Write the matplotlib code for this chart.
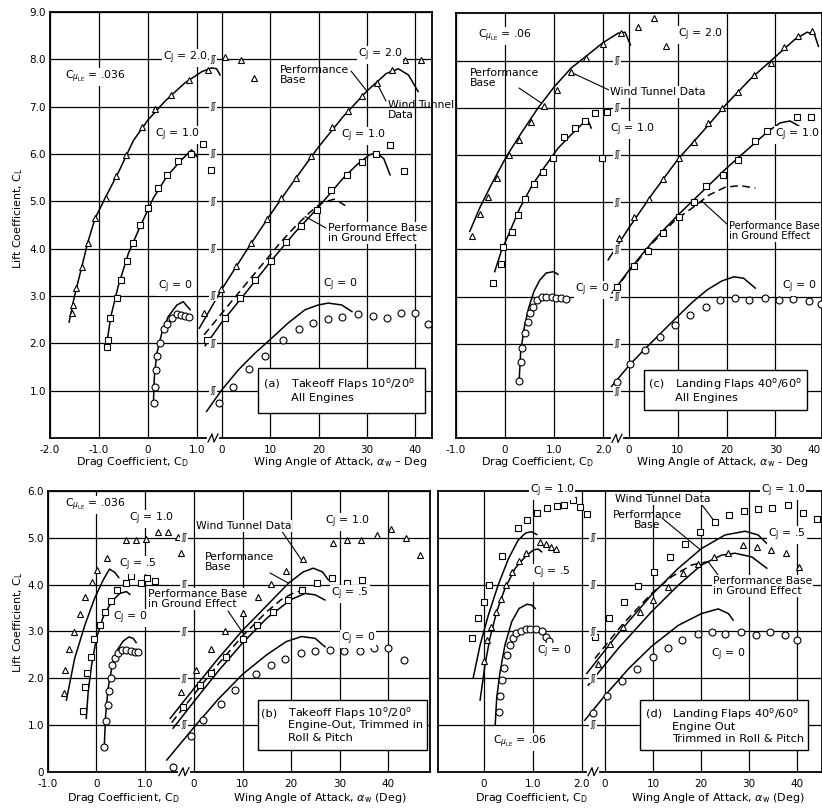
import matplotlib
matplotlib.use("Agg")
import matplotlib.pyplot as plt
from matplotlib.lines import Line2D
from matplotlib.patches import Rectangle

# ---------------------------------------------------------------------------
# values
# ---------------------------------------------------------------------------

# (a) takeoff flaps 10/20, all engines -- drag side (C_D, C_L)
a_cd_cj2_cd = [-1.56, -1.54, -1.47, -1.35, -1.23, -1.08, -0.86, -0.65, -0.45, -0.13, 0.14, 0.46, 0.84, 1.23]
a_cd_cj2_cl = [2.64, 2.81, 3.16, 3.62, 4.13, 4.64, 5.07, 5.54, 5.98, 6.58, 6.95, 7.25, 7.57, 7.78]
a_cd_cj2_base_cd = [-1.61, -1.50, -1.35, -1.23, -1.08, -0.86, -0.60, -0.30, 0.0, 0.35, 0.75, 1.10, 1.30, 1.40, 1.47]
a_cd_cj2_base_cl = [2.45, 3.00, 3.62, 4.13, 4.64, 5.10, 5.62, 6.28, 6.72, 7.12, 7.50, 7.74, 7.82, 7.80, 7.67]
a_cd_cj1_cd = [-0.84, -0.81, -0.78, -0.64, -0.55, -0.42, -0.30, -0.16, -0.01, 0.21, 0.39, 0.62, 0.87, 1.13, 1.28]
a_cd_cj1_cl = [1.92, 2.07, 2.53, 2.95, 3.34, 3.73, 4.12, 4.50, 4.86, 5.28, 5.56, 5.86, 6.00, 6.22, 5.67]
a_cd_cj1_base_cd = [-0.84, -0.76, -0.61, -0.40, -0.16, 0.11, 0.38, 0.65, 0.89, 0.99]
a_cd_cj1_base_cl = [2.00, 2.56, 3.20, 3.90, 4.47, 5.07, 5.52, 5.84, 6.09, 5.95]
a_cd_cj0_cd = [0.13, 0.14, 0.16, 0.19, 0.24, 0.33, 0.39, 0.48, 0.59, 0.67, 0.76, 0.84]
a_cd_cj0_cl = [0.75, 1.08, 1.44, 1.73, 2.01, 2.30, 2.41, 2.53, 2.62, 2.60, 2.58, 2.55]
a_cd_cj0_base_cd = [0.11, 0.13, 0.18, 0.28, 0.41, 0.59, 0.72, 0.86]
a_cd_cj0_base_cl = [0.73, 1.30, 1.79, 2.21, 2.56, 2.81, 2.88, 2.71]

# (a) -- angle of attack side (alpha_w, C_L)
a_al_cj2_al = [-3.7, -0.2, 3.0, 6.0, 9.25, 12.2, 15.3, 18.4, 22.8, 26.1, 28.9, 32.0, 35.1, 0.6, 3.9, 6.7, 37.9, 41.2]
a_al_cj2_cl = [2.64, 3.14, 3.64, 4.12, 4.62, 5.07, 5.49, 5.95, 6.56, 6.90, 7.23, 7.51, 7.78, 8.04, 7.98, 7.60, 7.98, 7.99]
a_al_cj2_base_al = [-4.7, 0, 5, 10, 15, 20, 25, 30, 34, 36.5, 38.6, 40.6]
a_al_cj2_base_cl = [2.32, 3.15, 3.95, 4.72, 5.45, 6.15, 6.78, 7.33, 7.70, 7.80, 7.67, 7.32]
a_al_cj1_al = [-3.2, 0.6, 3.7, 6.8, 10.1, 13.2, 16.4, 19.6, 22.6, 25.8, 29.0, 31.8, 34.8, 37.7]
a_al_cj1_cl = [2.07, 2.53, 2.95, 3.33, 3.73, 4.15, 4.48, 4.82, 5.24, 5.56, 5.84, 6.00, 6.19, 5.65]
a_al_cj1_base_al = [-3.5, 0, 5, 10, 15, 20, 25, 28, 30.5, 32, 33.5, 34.8]
a_al_cj1_base_cl = [1.95, 2.45, 3.08, 3.72, 4.33, 4.88, 5.48, 5.78, 5.98, 6.03, 5.90, 5.56]
a_al_ground_al = [-3.7, 0, 5, 10, 12, 15, 18, 20.6, 23.4, 25.8]
a_al_ground_cl = [2.18, 2.64, 3.26, 3.87, 4.12, 4.45, 4.75, 4.97, 5.05, 4.89]
a_al_cj0_al = [-0.6, 2.3, 5.6, 8.9, 12.7, 15.9, 18.8, 21.9, 24.8, 28.1, 31.3, 34.1, 37.1, 40.0, 42.7]
a_al_cj0_cl = [0.75, 1.08, 1.45, 1.73, 2.07, 2.30, 2.42, 2.51, 2.56, 2.62, 2.58, 2.53, 2.65, 2.65, 2.41]
a_al_cj0_base_al = [-3.2, -0.1, 3.4, 6.8, 10.3, 13.7, 17.2, 19.9, 22.0, 24.8, 26.9]
a_al_cj0_base_cl = [0.56, 1.01, 1.44, 1.79, 2.11, 2.43, 2.71, 2.81, 2.85, 2.81, 2.67]

# (c) landing flaps 40/60, all engines -- drag side
c_cd_cj2_cd = [-0.67, -0.52, -0.35, -0.16, 0.08, 0.29, 0.54, 0.79, 1.07, 1.35, 1.65, 2.00, 2.37]
c_cd_cj2_cl = [4.29, 4.75, 5.12, 5.52, 5.99, 6.32, 6.69, 7.03, 7.38, 7.75, 8.05, 8.35, 8.58]
c_cd_cj2_base_cd = [-0.72, -0.52, -0.28, 0.03, 0.33, 0.67, 1.01, 1.35, 1.69, 1.99, 2.31, 2.45, 2.56]
c_cd_cj2_base_cl = [4.38, 4.87, 5.37, 5.97, 6.46, 6.99, 7.45, 7.84, 8.12, 8.37, 8.58, 8.60, 8.33]
c_cd_cj1_cd = [-0.25, -0.08, -0.04, 0.14, 0.27, 0.41, 0.59, 0.78, 0.97, 1.20, 1.42, 1.63, 1.84, 2.09, 1.97]
c_cd_cj1_cl = [3.28, 3.69, 4.05, 4.36, 4.73, 5.06, 5.39, 5.64, 5.93, 6.38, 6.57, 6.71, 6.89, 6.91, 5.93]
c_cd_cj1_base_cd = [-0.21, -0.08, 0.10, 0.30, 0.54, 0.81, 1.08, 1.35, 1.59, 1.69, 1.76]
c_cd_cj1_base_cl = [3.53, 3.95, 4.38, 4.87, 5.33, 5.75, 6.14, 6.43, 6.67, 6.74, 6.57]
c_cd_cj0_cd = [0.29, 0.32, 0.35, 0.40, 0.47, 0.52, 0.57, 0.66, 0.76, 0.84, 0.95, 1.05, 1.15, 1.25]
c_cd_cj0_cl = [1.21, 1.62, 1.91, 2.22, 2.47, 2.65, 2.79, 2.93, 2.99, 2.99, 3.00, 2.97, 2.98, 2.95]
c_cd_cj0_base_cd = [0.29, 0.32, 0.39, 0.48, 0.59, 0.71, 0.84, 1.00, 1.08]
c_cd_cj0_base_cl = [1.24, 1.83, 2.33, 2.75, 3.11, 3.35, 3.50, 3.53, 3.47]

# (c) -- angle of attack side
c_al_cj2_al = [-2.0, 1.0, 4.1, 7.0, 10.2, 13.3, 16.2, 19.1, 22.3, 25.6, 29.0, 31.7, 34.6, 37.5, 1.9, 5.1, 7.7]
c_al_cj2_cl = [4.24, 4.69, 5.07, 5.49, 5.93, 6.28, 6.67, 6.99, 7.33, 7.70, 7.94, 8.28, 8.51, 8.63, 8.70, 8.90, 8.30]
c_al_cj2_base_al = [-4.2, 0, 5, 10, 15, 20, 25, 30, 34, 36.5, 38, 38.8]
c_al_cj2_base_cl = [3.78, 4.45, 5.20, 5.90, 6.48, 7.08, 7.62, 8.08, 8.45, 8.60, 8.55, 8.30]
c_al_cj1_al = [-2.4, 1.0, 3.9, 7.0, 10.2, 13.3, 15.9, 19.2, 22.4, 25.9, 28.3, 34.4, 37.3]
c_al_cj1_cl = [3.21, 3.64, 3.97, 4.34, 4.69, 5.01, 5.35, 5.58, 5.90, 6.30, 6.50, 6.80, 6.80]
c_al_cj1_base_al = [-3.4, 0, 5, 10, 15, 20, 25, 28.5, 31, 33, 35, 36]
c_al_cj1_base_cl = [3.08, 3.55, 4.18, 4.72, 5.22, 5.72, 6.18, 6.50, 6.68, 6.72, 6.60, 6.45]
c_al_ground_al = [-3.0, 0, 5, 9.5, 12.9, 16.4, 19.8, 22.8, 25.9]
c_al_ground_cl = [3.12, 3.53, 4.15, 4.62, 4.87, 5.15, 5.32, 5.35, 5.30]
c_al_cj0_al = [-2.4, 0.3, 3.4, 6.5, 9.5, 12.6, 15.8, 18.7, 21.8, 24.7, 27.8, 30.7, 33.7, 36.8, 39.4]
c_al_cj0_cl = [1.20, 1.57, 1.87, 2.15, 2.40, 2.61, 2.79, 2.92, 2.97, 2.92, 2.98, 2.93, 2.95, 2.91, 2.84]
c_al_cj0_base_al = [-3.5, 0.3, 3.4, 6.5, 10, 13, 16, 19, 21.5, 23.5, 25.9]
c_al_cj0_base_cl = [1.10, 1.57, 1.90, 2.22, 2.58, 2.88, 3.14, 3.33, 3.42, 3.39, 3.18]

# (b) takeoff flaps, engine out -- drag side
b_cd_cj1_cd = [-0.67, -0.65, -0.56, -0.47, -0.34, -0.24, -0.10, 0.02, 0.21, 0.62, 0.82, 1.03, 1.27, 1.48, 1.69, 1.75]
b_cd_cj1_cl = [1.68, 2.17, 2.62, 2.99, 3.38, 3.74, 4.06, 4.31, 4.57, 4.95, 4.95, 4.97, 5.12, 5.12, 5.02, 4.68]
b_cd_cj1_base_cd = [-0.62, -0.45, -0.24, -0.04, 0.14, 0.27, 0.38, 0.46]
b_cd_cj1_base_cl = [1.53, 2.42, 3.13, 3.70, 4.10, 4.33, 4.26, 4.15]
b_cd_cj05_cd = [-0.27, -0.23, -0.19, -0.12, -0.06, 0.07, 0.17, 0.30, 0.43, 0.62, 0.71, 0.91, 1.05, 1.20]
b_cd_cj05_cl = [1.30, 1.82, 2.12, 2.46, 2.84, 3.13, 3.41, 3.65, 3.88, 4.04, 4.19, 4.04, 4.13, 4.07]
b_cd_cj05_base_cd = [-0.21, -0.17, -0.10, 0.00, 0.14, 0.31, 0.48, 0.62, 0.69]
b_cd_cj05_base_cl = [1.14, 1.71, 2.28, 2.85, 3.31, 3.63, 3.81, 3.85, 3.79]
b_cd_cj0_cd = [0.16, 0.19, 0.23, 0.26, 0.30, 0.33, 0.38, 0.45, 0.52, 0.62, 0.71, 0.79, 0.86]
b_cd_cj0_cl = [0.53, 1.08, 1.43, 1.72, 2.01, 2.28, 2.42, 2.53, 2.60, 2.61, 2.59, 2.56, 2.55]
b_cd_cj0_base_cd = [0.16, 0.19, 0.24, 0.32, 0.43, 0.55, 0.67, 0.76, 0.82]
b_cd_cj0_base_cl = [0.50, 1.21, 1.78, 2.24, 2.60, 2.79, 2.88, 2.85, 2.76]

# (b) -- angle of attack side
b_al_cj1_al = [-2.6, 0.4, 3.6, 6.3, 10.1, 13.2, 15.9, 19.0, 22.5, 28.7, 31.6, 34.5, 37.8, 40.7, 43.8, 46.7]
b_al_cj1_cl = [1.71, 2.17, 2.62, 3.01, 3.40, 3.74, 4.01, 4.29, 4.54, 4.88, 4.95, 4.95, 5.07, 5.19, 4.99, 4.63]
b_al_cj1_base_al = [-4.9, 0, 5, 10, 15, 19.5, 22.5, 24.6, 26.5, 27.7]
b_al_cj1_base_cl = [1.14, 1.78, 2.42, 3.02, 3.55, 4.03, 4.27, 4.35, 4.27, 4.10]
b_al_cj05_al = [-2.3, 1.2, 3.6, 6.7, 10.0, 13.0, 16.2, 19.4, 22.2, 25.4, 28.4, 31.5, 34.6]
b_al_cj05_cl = [1.38, 1.85, 2.11, 2.46, 2.83, 3.13, 3.41, 3.67, 3.88, 4.04, 4.13, 4.03, 4.10]
b_al_cj05_base_al = [-4.3, 0, 5, 10, 15, 20, 22.9, 25, 27]
b_al_cj05_base_cl = [0.93, 1.50, 2.15, 2.75, 3.28, 3.68, 3.81, 3.78, 3.67]
b_al_ground_al = [-4.6, 0, 5, 10, 15, 18, 20.5, 22.5]
b_al_ground_cl = [1.05, 1.65, 2.30, 2.90, 3.42, 3.68, 3.82, 3.88]
b_al_cj0_al = [-4.3, -0.7, 1.9, 5.5, 8.5, 12.8, 15.9, 18.8, 22.0, 24.9, 28.0, 30.9, 34.2, 37.1, 40.0, 43.3]
b_al_cj0_cl = [0.11, 0.77, 1.10, 1.45, 1.75, 2.08, 2.28, 2.41, 2.53, 2.59, 2.61, 2.58, 2.58, 2.65, 2.65, 2.39]
b_al_cj0_base_al = [-5.6, 0, 5, 10, 15, 19, 22.2, 25, 27]
b_al_cj0_base_cl = [0.25, 0.95, 1.55, 2.08, 2.50, 2.78, 2.89, 2.85, 2.67]

# (d) landing flaps, engine out -- drag side
d_cd_cj1_cd = [-0.25, -0.12, -0.01, 0.11, 0.36, 0.70, 0.89, 1.09, 1.30, 1.49, 1.64, 1.83, 1.97, 2.12]
d_cd_cj1_cl = [2.86, 3.28, 3.63, 3.99, 4.62, 5.20, 5.39, 5.52, 5.63, 5.68, 5.70, 5.81, 5.66, 5.50]
d_cd_cj1_base_cd = [-0.22, -0.08, 0.09, 0.29, 0.50, 0.70, 0.85, 0.97, 1.08]
d_cd_cj1_base_cl = [2.01, 2.71, 3.35, 3.99, 4.55, 4.95, 5.10, 5.13, 5.07]
d_cd_cj05_cd = [-0.01, 0.07, 0.14, 0.25, 0.34, 0.45, 0.58, 0.72, 0.87, 1.15, 1.27, 1.37, 1.48, 1.30]
d_cd_cj05_cl = [2.37, 2.81, 3.10, 3.42, 3.70, 4.00, 4.26, 4.50, 4.67, 4.91, 4.86, 4.81, 4.76, 4.35]
d_cd_cj05_base_cd = [-0.08, 0.02, 0.12, 0.26, 0.43, 0.64, 0.84, 1.01, 1.11, 1.18]
d_cd_cj05_base_cl = [1.53, 2.28, 2.85, 3.42, 3.92, 4.35, 4.59, 4.74, 4.76, 4.70]
d_cd_cj0_cd = [0.31, 0.33, 0.36, 0.41, 0.48, 0.53, 0.60, 0.66, 0.76, 0.86, 0.94, 1.07, 1.18, 1.27, 1.34]
d_cd_cj0_cl = [1.28, 1.62, 1.96, 2.22, 2.49, 2.71, 2.85, 2.97, 3.01, 3.05, 3.06, 3.05, 3.01, 2.88, 2.79]
d_cd_cj0_base_cd = [0.23, 0.26, 0.33, 0.43, 0.57, 0.72, 0.88, 0.98, 1.05]
d_cd_cj0_base_cl = [1.01, 1.57, 2.14, 2.71, 3.21, 3.49, 3.58, 3.56, 3.49]

# (d) -- angle of attack side
d_al_cj1_al = [-2.1, 0.8, 4.0, 6.9, 10.3, 13.5, 16.7, 19.8, 22.9, 25.8, 29.0, 31.9, 34.7, 38.2, 41.3, 44.1]
d_al_cj1_cl = [2.88, 3.28, 3.63, 3.97, 4.27, 4.59, 4.86, 5.13, 5.34, 5.49, 5.57, 5.61, 5.63, 5.70, 5.52, 5.41]
d_al_cj1_base_al = [-3.8, 2.8, 9.7, 15.3, 20.1, 25.0, 29.2, 31.9, 33.7]
d_al_cj1_base_cl = [2.10, 2.96, 3.78, 4.35, 4.77, 5.06, 5.14, 5.06, 4.88]
d_al_cj05_al = [-1.5, 1.0, 3.8, 7.3, 10.1, 13.2, 16.3, 19.4, 22.7, 25.7, 28.7, 31.6, 34.6, 37.7, 40.5]
d_al_cj05_cl = [2.30, 2.74, 3.10, 3.42, 3.68, 3.95, 4.24, 4.45, 4.59, 4.67, 4.85, 4.81, 4.73, 4.67, 4.38]
d_al_cj05_base_al = [-3.5, 2.8, 9.7, 15.3, 20.1, 24.3, 27.1, 30.6, 33.7]
d_al_cj05_base_cl = [1.85, 2.64, 3.42, 3.99, 4.42, 4.63, 4.67, 4.59, 4.35]
d_al_ground_al = [-2.1, 3.5, 9.7, 13.9, 18.1, 21.5]
d_al_ground_cl = [2.42, 3.13, 3.81, 4.17, 4.42, 4.49]
d_al_cj0_al = [-2.6, 0.4, 3.6, 6.6, 10.1, 13.2, 16.1, 19.4, 22.2, 25.1, 28.3, 31.4, 34.4, 37.5, 40.1]
d_al_cj0_cl = [1.25, 1.62, 1.94, 2.19, 2.46, 2.65, 2.81, 2.94, 2.99, 2.94, 2.99, 2.92, 2.99, 2.92, 2.81]
d_al_cj0_base_al = [-4.2, 0, 4.9, 9.7, 15.3, 20.1, 23.6, 25.7, 26.7]
d_al_cj0_base_cl = [1.10, 1.63, 2.20, 2.68, 3.13, 3.38, 3.48, 3.38, 3.24]

# tick labels
cd_ticks_a, cd_labels_a = [-2, -1, 0, 1], ["-2.0", "-1.0", "0", "1.0"]
cd_ticks_c, cd_labels_c = [-1, 0, 1, 2], ["-1.0", "0", "1.0", "2.0"]
cd_ticks_b, cd_labels_b = [-1, 0, 1], ["-1.0", "0", "1.0"]
cd_ticks_d, cd_labels_d = [0, 1, 2], ["0", "1.0", "2.0"]
al_ticks = [0, 10, 20, 30, 40]

# ---------------------------------------------------------------------------
W, H = 822, 810
fig = plt.figure(figsize=(W / 100, H / 100), dpi=100)


def fpos(px, py):
    return px / W, 1 - py / H


def panel(frame, ymax, cd0, cd_px, al0, al_px, cd_ticks, cd_labels, y_labels):
    """Two overlaid axes sharing one frame: drag coefficient and angle of attack."""
    left, top, right, bottom = frame
    rect = [left / W, 1 - bottom / H, (right - left) / W, (bottom - top) / H]
    ax_cd = fig.add_axes(rect)
    ax_al = fig.add_axes(rect, facecolor="none")
    ax_cd.set_xlim((left - cd0) / cd_px, (right - cd0) / cd_px)
    ax_al.set_xlim((left - al0) / al_px, (right - al0) / al_px)
    for ax in (ax_cd, ax_al):
        ax.set_ylim(0, ymax)
        ax.tick_params(length=0, labelsize=7.5)
        ax.tick_params(axis="x", pad=5)
        ax.tick_params(axis="y", pad=3)
    ax_cd.set_xticks(cd_ticks, cd_labels)
    if y_labels == "a":
        ax_cd.set_yticks(range(1, ymax + 1), [f"{v:.1f}" for v in range(1, ymax + 1)])
    elif y_labels == "b":
        ax_cd.set_yticks(range(0, ymax + 1), ["0"] + [f"{v:.1f}" for v in range(1, ymax + 1)])
    else:
        ax_cd.set_yticks(range(1, ymax), [""] * (ymax - 1))
    ax_cd.grid(True, color="black", lw=0.9)
    for s in ax_cd.spines.values():
        s.set_linewidth(1.3)
    ticks = [t for t in al_ticks if t <= ax_al.get_xlim()[1]]
    ax_al.set_xticks(ticks, [str(t) for t in ticks])
    ax_al.set_yticks([])
    ax_al.grid(True, axis="x", color="black", lw=0.9)
    for s in ax_al.spines.values():
        s.set_visible(False)
    return ax_cd, ax_al


def pts(ax, x, y, marker, ms):
    ax.plot(x, y, ls="none", marker=marker, ms=ms, mfc="white", mec="black", mew=0.8, zorder=4)


def curve(ax, x, y, dashed=False):
    ax.plot(x, y, color="black", lw=1.1, ls=(0, (5, 3)) if dashed else "-", zorder=3)


def label(px, py, s, ha="center", size=7.8, bg=False, **kw):
    box = dict(fc="white", ec="none", pad=0.6) if bg else None
    fig.text(px / W, 1 - py / H, s, ha=ha, va="center", fontsize=size, bbox=box, **kw)


def leader(ax, xy, px, py):
    ax.annotate("", xy=xy, xytext=fpos(px, py), textcoords="figure fraction",
                arrowprops=dict(arrowstyle="-", color="black", lw=0.8, shrinkA=0, shrinkB=0),
                annotation_clip=False)


def breaks(px, top, bottom, ymax):
    step = (bottom - top) / ymax
    for v in range(1, ymax):
        label(px, bottom - v * step, "ʃʃ", size=6, bg=True)
    fig.add_artist(Line2D([(px - 4) / W, (px + 4) / W], [1 - bottom / H] * 2, color="white", lw=3))
    xs = [(px - 5) / W, (px - 1) / W, (px + 1) / W, (px + 5) / W]
    ys = [1 - (bottom + 4) / H, 1 - (bottom - 4) / H, 1 - (bottom + 4) / H, 1 - (bottom - 4) / H]
    fig.add_artist(Line2D(xs, ys, color="black", lw=0.9))


def note_box(l, t, r, b, tag, lines, tag_x, text_x, first_y, step=13):
    fig.add_artist(Rectangle((l / W, 1 - b / H), (r - l) / W, (b - t) / H,
                             transform=fig.transFigure, fc="white", ec="black", lw=1.0, zorder=2.5))
    label(tag_x, first_y, tag, ha="left", size=8.2)
    for i, s in enumerate(lines):
        label(text_x, first_y + i * step, s, ha="left", size=8.2)


CJ = r"C$_\mathrm{J}$"
DEG = r"$^\mathrm{o}$"

# ---------------------------------------------------------------------------
# (a)
ax_cd, ax_al = panel((50, 12, 432, 438), 9, 148, 49, 222, 4.83, cd_ticks_a, cd_labels_a, "a")
pts(ax_cd, a_cd_cj2_cd, a_cd_cj2_cl, "^", 5)
curve(ax_cd, a_cd_cj2_base_cd, a_cd_cj2_base_cl)
pts(ax_cd, a_cd_cj1_cd, a_cd_cj1_cl, "s", 4.5)
curve(ax_cd, a_cd_cj1_base_cd, a_cd_cj1_base_cl)
pts(ax_cd, a_cd_cj0_cd, a_cd_cj0_cl, "o", 5)
curve(ax_cd, a_cd_cj0_base_cd, a_cd_cj0_base_cl)
curve(ax_al, a_al_cj2_base_al, a_al_cj2_base_cl)
pts(ax_al, a_al_cj2_al, a_al_cj2_cl, "^", 5)
curve(ax_al, a_al_cj1_base_al, a_al_cj1_base_cl)
curve(ax_al, a_al_ground_al, a_al_ground_cl, dashed=True)
pts(ax_al, a_al_cj1_al, a_al_cj1_cl, "s", 4.5)
curve(ax_al, a_al_cj0_base_al, a_al_cj0_base_cl)
pts(ax_al, a_al_cj0_al, a_al_cj0_cl, "o", 5)
leader(ax_al, (30, 7.33), 351, 71)
leader(ax_al, (32.0, 7.51), 386, 101)
leader(ax_al, (17.2, 4.68), 326, 228)
breaks(213, 12, 438, 9)
label(185, 58, CJ + " = 2.0", bg=True)
label(95, 77, r"C$_{\mu_\mathrm{LE}}$ = .036", bg=True)
label(177, 135, CJ + " = 1.0", bg=True)
label(175, 287, CJ + " = 0", bg=True)
label(380, 55, CJ + " = 2.0", bg=True)
label(280, 75, "Performance\nBase", ha="left", linespacing=1.1)
label(388, 110, "Wind Tunnel\nData", ha="left", linespacing=1.0)
label(328, 233, "Performance Base\nin Ground Effect", ha="left", linespacing=1.1, bg=True)
label(363, 136, CJ + " = 1.0", bg=True)
label(340, 285, CJ + " = 0", bg=True)
note_box(258, 368, 425, 413, "(a)", ["Takeoff Flaps 10" + DEG + "/20" + DEG, "All Engines"], 264, 291, 384, 14)
label(18, 218, r"Lift Coefficient, C$_\mathrm{L}$", rotation=90, size=8)
label(132, 462, r"Drag Coefficient, C$_\mathrm{D}$", size=8)
label(340, 462, r"Wing Angle of Attack, $\alpha_\mathrm{w}$ – Deg", size=8)

# (c)
ax_cd, ax_al = panel((456, 13.3, 822, 438.3), 9, 505, 49, 628.7, 4.89, cd_ticks_c, cd_labels_c, "c")
pts(ax_cd, c_cd_cj2_cd, c_cd_cj2_cl, "^", 5)
curve(ax_cd, c_cd_cj2_base_cd, c_cd_cj2_base_cl)
pts(ax_cd, c_cd_cj1_cd, c_cd_cj1_cl, "s", 4.5)
curve(ax_cd, c_cd_cj1_base_cd, c_cd_cj1_base_cl)
pts(ax_cd, c_cd_cj0_cd, c_cd_cj0_cl, "o", 5)
curve(ax_cd, c_cd_cj0_base_cd, c_cd_cj0_base_cl)
curve(ax_al, c_al_cj2_base_al, c_al_cj2_base_cl)
pts(ax_al, c_al_cj2_al, c_al_cj2_cl, "^", 5)
curve(ax_al, c_al_cj1_base_al, c_al_cj1_base_cl)
curve(ax_al, c_al_ground_al, c_al_ground_cl, dashed=True)
pts(ax_al, c_al_cj1_al, c_al_cj1_cl, "s", 4.5)
curve(ax_al, c_al_cj0_base_al, c_al_cj0_base_cl)
pts(ax_al, c_al_cj0_al, c_al_cj0_cl, "o", 5)
leader(ax_cd, (0.74, 7.10), 519, 88)
leader(ax_cd, (1.35, 7.75), 609, 90)
leader(ax_al, (15.0, 5.02), 728, 225)
breaks(617, 13.3, 438.3, 9)
label(505, 36, r"C$_{\mu_\mathrm{LE}}$ = .06", bg=True)
label(470, 78, "Performance\nBase", ha="left", linespacing=1.1)
label(610, 92, "Wind Tunnel Data", ha="left", bg=True)
label(700, 35, CJ + " = 2.0", bg=True)
label(632, 130, CJ + " = 1.0", bg=True)
label(797, 135, CJ + " = 1.0", bg=True)
label(592, 290, CJ + " = 0", bg=True)
label(799, 287, CJ + " = 0", bg=True)
label(729, 231, "Performance Base\nin Ground Effect", ha="left", size=7.2, linespacing=1.1, bg=True)
note_box(644, 370, 807, 410, "(c)", ["Landing Flaps 40" + DEG + "/60" + DEG, "All Engines"], 649, 675, 384, 14)
label(821, 450, "40", ha="right", size=7.5)
label(537, 462, r"Drag Coefficient, C$_\mathrm{D}$", size=8)
label(722, 462, r"Wing Angle of Attack, $\alpha_\mathrm{w}$ - Deg", size=8)

# (b)
ax_cd, ax_al = panel((48, 491, 430, 771.7), 6, 96, 48.5, 194, 4.85, cd_ticks_b, cd_labels_b, "b")
pts(ax_cd, b_cd_cj1_cd, b_cd_cj1_cl, "^", 5)
curve(ax_cd, b_cd_cj1_base_cd, b_cd_cj1_base_cl)
pts(ax_cd, b_cd_cj05_cd, b_cd_cj05_cl, "s", 4.5)
curve(ax_cd, b_cd_cj05_base_cd, b_cd_cj05_base_cl)
pts(ax_cd, b_cd_cj0_cd, b_cd_cj0_cl, "o", 5)
curve(ax_cd, b_cd_cj0_base_cd, b_cd_cj0_base_cl)
curve(ax_al, b_al_cj1_base_al, b_al_cj1_base_cl)
curve(ax_al, b_al_cj05_base_al, b_al_cj05_base_cl)
curve(ax_al, b_al_ground_al, b_al_ground_cl, dashed=True)
curve(ax_al, b_al_cj0_base_al, b_al_cj0_base_cl)
pts(ax_al, b_al_cj1_al, b_al_cj1_cl, "^", 5)
pts(ax_al, b_al_cj05_al, b_al_cj05_cl, "s", 4.5)
pts(ax_al, b_al_cj0_al, b_al_cj0_cl, "o", 5)
leader(ax_al, (22.2, 4.52), 281, 530)
leader(ax_al, (19.5, 4.03), 270, 573)
leader(ax_al, (10.2, 2.95), 228, 611)
breaks(184, 491, 771.7, 6)
label(95, 505, r"C$_{\mu_\mathrm{LE}}$ = .036", bg=True)
label(151, 519, CJ + " = 1.0", bg=True)
label(138, 565, CJ + " = .5", bg=True)
label(130, 618, CJ + " = 0", bg=True)
label(196, 526, "Wind Tunnel Data", ha="left", bg=True)
label(205, 562, "Performance\nBase", ha="left", linespacing=1.1)
label(148, 599, "Performance Base\nin Ground Effect", ha="left", linespacing=1.1, bg=True)
label(347, 522, CJ + " = 1.0", bg=True)
label(350, 594, CJ + " = .5", bg=True)
label(358, 639, CJ + " = 0", bg=True)
note_box(258, 700, 427, 750, "(b)", ["Takeoff Flaps 10" + DEG + "/20" + DEG, "Engine-Out, Trimmed in", "Roll & Pitch"],
         261, 288, 713, 12.5)
label(18, 622, r"Lift Coefficient, C$_\mathrm{L}$", rotation=90, size=8)
label(123, 798, r"Drag Coefficient, C$_\mathrm{D}$", size=8)
label(320, 798, r"Wing Angle of Attack, $\alpha_\mathrm{w}$ (Deg)", size=8)

# (d)
ax_cd, ax_al = panel((437.5, 491, 822, 771.7), 6, 484, 48.8, 605, 4.8, cd_ticks_d, cd_labels_d, "d")
pts(ax_cd, d_cd_cj1_cd, d_cd_cj1_cl, "s", 4.5)
curve(ax_cd, d_cd_cj1_base_cd, d_cd_cj1_base_cl)
pts(ax_cd, d_cd_cj05_cd, d_cd_cj05_cl, "^", 5)
curve(ax_cd, d_cd_cj05_base_cd, d_cd_cj05_base_cl)
pts(ax_cd, d_cd_cj0_cd, d_cd_cj0_cl, "o", 5)
curve(ax_cd, d_cd_cj0_base_cd, d_cd_cj0_base_cl)
curve(ax_al, d_al_cj1_base_al, d_al_cj1_base_cl)
curve(ax_al, d_al_cj05_base_al, d_al_cj05_base_cl)
curve(ax_al, d_al_ground_al, d_al_ground_cl, dashed=True)
curve(ax_al, d_al_cj0_base_al, d_al_cj0_base_cl)
pts(ax_al, d_al_cj1_al, d_al_cj1_cl, "s", 4.5)
pts(ax_al, d_al_cj05_al, d_al_cj05_cl, "^", 5)
pts(ax_al, d_al_cj0_al, d_al_cj0_cl, "o", 5)
leader(ax_al, (22.9, 5.34), 702, 505)
leader(ax_al, (19.8, 4.75), 662, 518)
leader(ax_al, (21.5, 4.49), 718, 575)
breaks(593, 491, 771.7, 6)
label(552, 491, CJ + " = 1.0", bg=True)
label(552, 573, CJ + " = .5", bg=True)
label(554, 652, CJ + " = 0", bg=True)
label(520, 742, r"C$_{\mu_\mathrm{LE}}$ = .06", bg=True)
label(615, 499, "Wind Tunnel Data", ha="left", bg=True)
label(647, 520, "Performance\nBase", linespacing=1.1)
label(783, 491, CJ + " = 1.0", bg=True)
label(787, 535, CJ + " = .5", bg=True)
label(713, 586, "Performance Base\nin Ground Effect", ha="left", linespacing=1.1, bg=True)
label(728, 655, CJ + " = 0", bg=True)
note_box(640, 700, 808, 750, "(d)", ["Landing Flaps 40" + DEG + "/60" + DEG, "Engine Out", "Trimmed in Roll & Pitch"],
         646, 672, 714, 12.5)
label(531, 798, r"Drag Coefficient, C$_\mathrm{D}$", size=8)
label(718, 798, r"Wing Angle of Attack, $\alpha_\mathrm{w}$ (Deg)", size=8)

fig.savefig("out.png", dpi=100, facecolor="white")
